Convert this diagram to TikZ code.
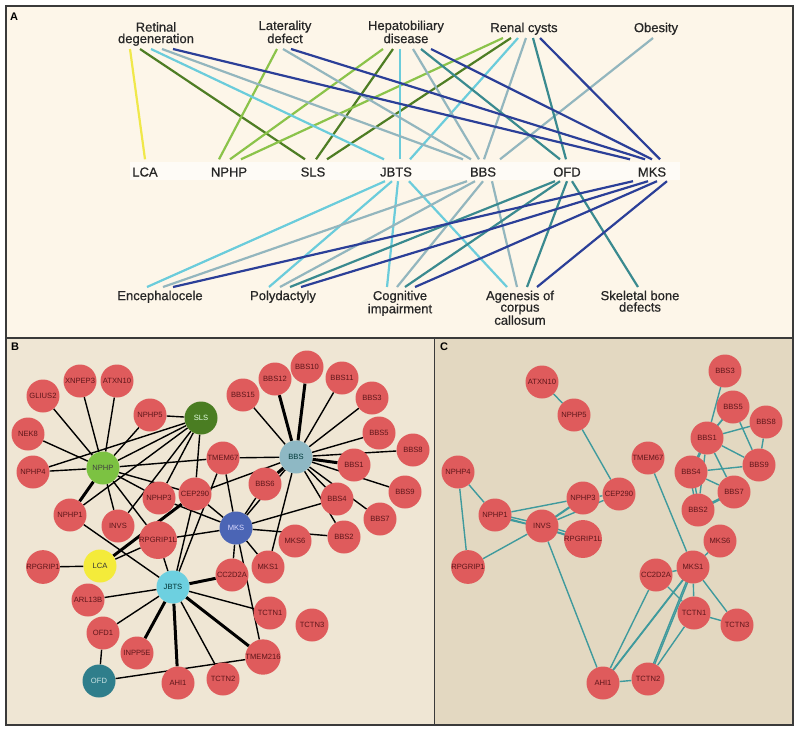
\documentclass[tikz,border=0pt]{standalone}
\usepackage{fontspec}
\setmainfont{Liberation Sans}
\newfontfamily\medfont[FakeBold=0.6]{Liberation Sans}
\usetikzlibrary{calc}
\pgfdeclarelayer{bg}\pgfdeclarelayer{edges}
\pgfsetlayers{bg,edges,main}
\definecolor{bgA}{HTML}{FDF6E9}
\definecolor{bgB}{HTML}{EFE6D4}
\definecolor{bgC}{HTML}{E3D8C1}
\definecolor{frm}{HTML}{3A3A3A}
\definecolor{nred}{HTML}{DF5B5C}
\definecolor{ntext}{HTML}{5E161A}
\definecolor{hNPHP}{HTML}{7CC242}
\definecolor{hSLS}{HTML}{4A7D22}
\definecolor{hLCA}{HTML}{F4EB3A}
\definecolor{hJBTS}{HTML}{6DD0E0}
\definecolor{hBBS}{HTML}{8EB8C4}
\definecolor{hMKS}{HTML}{4B65B5}
\definecolor{hOFD}{HTML}{2F7E8B}
\definecolor{ecol}{HTML}{3F9A9D}
\definecolor{lYel}{HTML}{F0E84A}
\definecolor{lDG}{HTML}{4E7D24}
\definecolor{lLG}{HTML}{8BC34A}
\definecolor{lCy}{HTML}{6BCCDB}
\definecolor{lGB}{HTML}{93B6BE}
\definecolor{lTe}{HTML}{3A8A8F}
\definecolor{lDB}{HTML}{2B3F98}
\begin{document}
\begin{tikzpicture}[x=1pt,y=-1pt,
  ptop/.style={font=\medfont\fontsize{13}{11.5}\selectfont, align=center, inner sep=0pt, text=black!85},
  dis/.style={font=\medfont\fontsize{13}{13}\selectfont, inner sep=0pt, text height=10pt, text depth=0pt, text=black!85},
  gn/.style={circle, fill=nred, minimum size=33pt, inner sep=0pt, font=\fontsize{7.6}{7.6}\selectfont, text=ntext},
  plab/.style={font=\bfseries\fontsize{11}{11}\selectfont, anchor=north west, inner sep=0pt},
  pa/.style={line width=2.2pt},
  eb/.style={line width=1.4pt, black},
  ebt/.style={line width=3pt, black},
  ec/.style={line width=1.4pt, ecol}]
\useasboundingbox (0,0) rectangle (800,732);
\begin{pgfonlayer}{bg}
\fill[white] (0,0) rectangle (800,732);
\fill[bgA] (6,6) rectangle (793,338);
\fill[bgB] (6,338) rectangle (434,725);
\fill[bgC] (434,338) rectangle (793,725);
\fill[white, opacity=0.6] (130,162) rectangle (680,180);
\end{pgfonlayer}
\draw[frm, line width=1.6pt] (6,6) rectangle (793,725);
\draw[frm, line width=1.6pt] (6,338) -- (793,338);
\draw[frm, line width=1pt] (434,338) -- (434,725);
\node[plab] (la) at (10,13) {A};
\node[plab] (lb) at (11,343) {B};
\node[plab] (lc) at (440,343) {C};
% ---------- Panel A ----------
\node[ptop, anchor=south] (ret) at (156,46) {Retinal\\degeneration};
\node[ptop, anchor=south] (lat) at (285,46) {Laterality\\defect\vphantom{g}};
\node[ptop, anchor=south] (hep) at (406,46) {Hepatobiliary\\disease\vphantom{g}};
\node[ptop, anchor=south] (ren) at (524,35) {Renal cysts};
\node[ptop, anchor=south] (obe) at (656,35) {Obesity};
\node[dis] (lca) at (145,171.5) {LCA};
\node[dis] (nphp) at (229,171.5) {NPHP};
\node[dis] (sls) at (313,171.5) {SLS};
\node[dis] (jbts) at (396,171.5) {JBTS};
\node[dis] (bbs) at (483,171.5) {BBS};
\node[dis] (ofd) at (567,171.5) {OFD};
\node[dis] (mks) at (652,171.5) {MKS};
\node[ptop, anchor=north] (enc) at (160,290.5) {Encephalocele};
\node[ptop, anchor=north] (pol) at (283,290.5) {Polydactyly};
\node[ptop, anchor=north] (cog) at (400,290.5) {Cognitive\\impairment};
\node[ptop, anchor=north] (age) at (520,290.5) {Agenesis of\\corpus\\callosum};
\node[ptop, anchor=north] (ske) at (640,290.5) {Skeletal bone\\defects};
\begin{pgfonlayer}{edges}
% top phenotypes -> diseases
\draw[pa,lYel] ([xshift=-26pt,yshift=-3pt]ret.south) -- ([xshift=0pt,yshift=7pt]lca.north);
\draw[pa,lDG] ([xshift=-16pt,yshift=-3pt]ret.south) -- ([xshift=-8pt,yshift=7pt]sls.north);
\draw[pa,lDG] ([xshift=-13pt,yshift=-3pt]hep.south) -- ([xshift=3pt,yshift=7pt]sls.north);
\draw[pa,lDG] ([xshift=-13pt,yshift=-3pt]ren.south) -- ([xshift=14pt,yshift=7pt]sls.north);
\draw[pa,lLG] ([xshift=-8pt,yshift=-3pt]lat.south) -- ([xshift=-10pt,yshift=7pt]nphp.north);
\draw[pa,lLG] ([xshift=-23pt,yshift=-3pt]hep.south) -- ([xshift=1pt,yshift=7pt]nphp.north);
\draw[pa,lLG] ([xshift=-21pt,yshift=-3pt]ren.south) -- ([xshift=12pt,yshift=7pt]nphp.north);
\draw[pa,lCy] ([xshift=-5pt,yshift=-3pt]ret.south) -- ([xshift=-12pt,yshift=7pt]jbts.north);
\draw[pa,lCy] ([xshift=-6pt,yshift=-3pt]hep.south) -- ([xshift=4pt,yshift=7pt]jbts.north);
\draw[pa,lCy] ([xshift=-6pt,yshift=-3pt]ren.south) -- ([xshift=14pt,yshift=7pt]jbts.north);
\draw[pa,lGB] ([xshift=6pt,yshift=-3pt]ret.south) -- ([xshift=-20pt,yshift=7pt]bbs.north);
\draw[pa,lGB] ([xshift=-2pt,yshift=-3pt]lat.south) -- ([xshift=-12pt,yshift=7pt]bbs.north);
\draw[pa,lGB] ([xshift=7pt,yshift=-3pt]hep.south) -- ([xshift=-4pt,yshift=7pt]bbs.north);
\draw[pa,lGB] ([xshift=2pt,yshift=-3pt]ren.south) -- ([xshift=1pt,yshift=7pt]bbs.north);
\draw[pa,lGB] ([xshift=-3pt,yshift=-3pt]obe.south) -- ([xshift=17pt,yshift=7pt]bbs.north);
\draw[pa,lTe] ([xshift=15pt,yshift=-3pt]hep.south) -- ([xshift=-7pt,yshift=7pt]ofd.north);
\draw[pa,lTe] ([xshift=9pt,yshift=-3pt]ren.south) -- ([xshift=-1pt,yshift=7pt]ofd.north);
\draw[pa,lDB] ([xshift=17pt,yshift=-3pt]ret.south) -- ([xshift=-22pt,yshift=7pt]mks.north);
\draw[pa,lDB] ([xshift=6pt,yshift=-3pt]lat.south) -- ([xshift=-7pt,yshift=7pt]mks.north);
\draw[pa,lDB] ([xshift=25pt,yshift=-3pt]hep.south) -- ([xshift=0pt,yshift=7pt]mks.north);
\draw[pa,lDB] ([xshift=16pt,yshift=-3pt]ren.south) -- ([xshift=8pt,yshift=7pt]mks.north);
% diseases -> bottom phenotypes
\draw[pa,lCy] ([xshift=-11pt,yshift=-4.5pt]jbts.south) -- ([xshift=-13pt,yshift=3.5pt]enc.north);
\draw[pa,lCy] ([xshift=-4pt,yshift=-4.5pt]jbts.south) -- ([xshift=-14pt,yshift=3.5pt]pol.north);
\draw[pa,lCy] ([xshift=2pt,yshift=-4.5pt]jbts.south) -- ([xshift=-13pt,yshift=3.5pt]cog.north);
\draw[pa,lCy] ([xshift=13pt,yshift=-4.5pt]jbts.south) -- ([xshift=-13pt,yshift=3.5pt]age.north);
\draw[pa,lGB] ([xshift=-16pt,yshift=-4.5pt]bbs.south) -- ([xshift=3pt,yshift=3.5pt]enc.north);
\draw[pa,lGB] ([xshift=-8pt,yshift=-4.5pt]bbs.south) -- ([xshift=-3pt,yshift=3.5pt]pol.north);
\draw[pa,lGB] ([xshift=0pt,yshift=-4.5pt]bbs.south) -- ([xshift=-3pt,yshift=3.5pt]cog.north);
\draw[pa,lGB] ([xshift=9pt,yshift=-4.5pt]bbs.south) -- ([xshift=-3pt,yshift=3.5pt]age.north);
\draw[pa,lTe] ([xshift=-12pt,yshift=-4.5pt]ofd.south) -- ([xshift=7pt,yshift=3.5pt]pol.north);
\draw[pa,lTe] ([xshift=-7pt,yshift=-4.5pt]ofd.south) -- ([xshift=5pt,yshift=3.5pt]cog.north);
\draw[pa,lTe] ([xshift=0pt,yshift=-4.5pt]ofd.south) -- ([xshift=7pt,yshift=3.5pt]age.north);
\draw[pa,lTe] ([xshift=5pt,yshift=-4.5pt]ofd.south) -- ([xshift=-2pt,yshift=3.5pt]ske.north);
\draw[pa,lDB] ([xshift=-19pt,yshift=-4.5pt]mks.south) -- ([xshift=13pt,yshift=3.5pt]enc.north);
\draw[pa,lDB] ([xshift=-4pt,yshift=-4.5pt]mks.south) -- ([xshift=18pt,yshift=3.5pt]pol.north);
\draw[pa,lDB] ([xshift=5pt,yshift=-4.5pt]mks.south) -- ([xshift=15pt,yshift=3.5pt]cog.north);
\draw[pa,lDB] ([xshift=15pt,yshift=-4.5pt]mks.south) -- ([xshift=17pt,yshift=3.5pt]age.north);
\end{pgfonlayer}
% ---------- Panel B ----------
\foreach \n/\x/\y in {XNPEP3/80/381, ATXN10/117/381, GLIUS2/43/396, NPHP5/150/415, NEK8/28/434,
  NPHP4/33/472, TMEM67/223/458, NPHP3/159/498, CEP290/195/494, NPHP1/70/515, INVS/118/526,
  RPGRIP1L/158/540, RPGRIP1/43/567, ARL13B/88/600, OFD1/103/633, INPP5E/137/653, AHI1/178/683,
  TCTN2/223/679, TMEM216/263/657, TCTN1/270/613, TCTN3/312/625, CC2D2A/232/575, MKS1/268/567,
  MKS6/295/541, BBS2/344/537, BBS7/380/519, BBS4/337/499, BBS9/405/492, BBS6/265/484,
  BBS1/354/465, BBS8/413/450, BBS5/379/433, BBS3/372/398, BBS15/243/395, BBS12/275/379,
  BBS10/307/367, BBS11/342/378}
  \node[gn] (b\n) at (\x,\y) {\n};
\node[gn, fill=hNPHP, text=black!75] (bNPHP) at (103,468) {NPHP};
\node[gn, fill=hSLS, text=white!90!green] (bSLS) at (201,418) {SLS};
\node[gn, fill=hLCA, text=black!80] (bLCA) at (100,566) {LCA};
\node[gn, fill=hJBTS, text=black!60!teal] (bJBTS) at (173,587) {JBTS};
\node[gn, fill=hBBS, text=black!55!teal] (bBBS) at (296,457) {BBS};
\node[gn, fill=hMKS, text=white!85!blue] (bMKS) at (236,528) {MKS};
\node[gn, fill=hOFD, text=white!80!teal] (bOFD) at (99,681) {OFD};
\begin{pgfonlayer}{edges}
\foreach \a/\b in {NPHP/GLIUS2, NPHP/XNPEP3, NPHP/ATXN10, NPHP/NEK8, NPHP/NPHP4, NPHP/NPHP5,
  NPHP/INVS, NPHP/NPHP3, NPHP/CEP290, NPHP/TMEM67, NPHP/RPGRIP1L, NPHP/SLS,
  SLS/NPHP5, SLS/NPHP4, SLS/NPHP1, SLS/INVS, SLS/NPHP3, SLS/CEP290,
  LCA/RPGRIP1, LCA/RPGRIP1L,
  JBTS/NPHP1, JBTS/RPGRIP1L, JBTS/CEP290, JBTS/TMEM67, JBTS/ARL13B, JBTS/OFD1, JBTS/TCTN2, JBTS/TCTN1,
  MKS/TMEM67, MKS/CEP290, MKS/NPHP3, MKS/RPGRIP1L, MKS/CC2D2A, MKS/MKS1, MKS/TMEM216, MKS/BBS2, MKS/BBS4, MKS/BBS6,
  BBS/BBS11, BBS/BBS15, BBS/BBS3, BBS/BBS5, BBS/BBS8, BBS/BBS9, BBS/BBS4, BBS/BBS7, BBS/BBS2,
  BBS/TMEM67, BBS/CEP290, BBS/MKS1, BBS/MKS,
  OFD/OFD1, OFD/TMEM216}
  \draw[eb] (b\a) -- (b\b);
\foreach \a/\b in {NPHP/NPHP1, LCA/CEP290, JBTS/INPP5E, JBTS/AHI1, JBTS/TMEM216, JBTS/CC2D2A,
  BBS/BBS10, BBS/BBS12, BBS/BBS1, BBS/BBS6}
  \draw[ebt] (b\a) -- (b\b);
\end{pgfonlayer}
% ---------- Panel C ----------
\foreach \n/\x/\y in {ATXN10/542/382, NPHP5/574/415, NPHP4/458/472, NPHP3/583/498, CEP290/619/494,
  NPHP1/495/515, INVS/542/526, RPGRIP1L/583/539, RPGRIP1/468/567, AHI1/603/683, TMEM67/648/458,
  BBS3/725/371, BBS5/733/407, BBS8/766/422, BBS1/707/438, BBS4/691/472, BBS9/759/465,
  BBS7/734/492, BBS2/698/510, MKS6/720/541, MKS1/693/567, CC2D2A/656/575, TCTN1/694/613,
  TCTN3/737/625, TCTN2/648/679}
  \node[gn] (c\n) at (\x,\y) {\n};
\begin{pgfonlayer}{edges}
\foreach \a/\b in {ATXN10/NPHP5, NPHP5/CEP290, NPHP4/NPHP1, NPHP4/RPGRIP1, NPHP1/NPHP3,
  NPHP3/CEP290, CEP290/INVS, INVS/RPGRIP1, INVS/AHI1, TMEM67/MKS1, BBS3/BBS1, BBS5/BBS9,
  BBS8/BBS1, BBS8/BBS9, BBS1/BBS9, BBS1/BBS7, BBS1/BBS2, BBS4/BBS9, BBS4/BBS7,
  MKS6/MKS1, MKS1/CC2D2A, MKS1/TCTN1, MKS1/TCTN3, CC2D2A/TCTN1, CC2D2A/AHI1, TCTN1/TCTN2,
  TCTN1/TCTN3, AHI1/TCTN2, NPHP1/RPGRIP1L}
  \draw[ec] (c\a) -- (c\b);
\foreach \a/\b in {NPHP1/INVS, NPHP3/INVS, INVS/RPGRIP1L, BBS5/BBS1, BBS1/BBS4, BBS4/BBS2,
  MKS1/TCTN2, MKS1/AHI1, BBS7/BBS2}
  {\draw[ec] ([xshift=1.3pt,yshift=1.3pt]c\a.center) -- ([xshift=1.3pt,yshift=1.3pt]c\b.center);
   \draw[ec] ([xshift=-1.3pt,yshift=-1.3pt]c\a.center) -- ([xshift=-1.3pt,yshift=-1.3pt]c\b.center);}
\end{pgfonlayer}
\end{tikzpicture}
\end{document}
